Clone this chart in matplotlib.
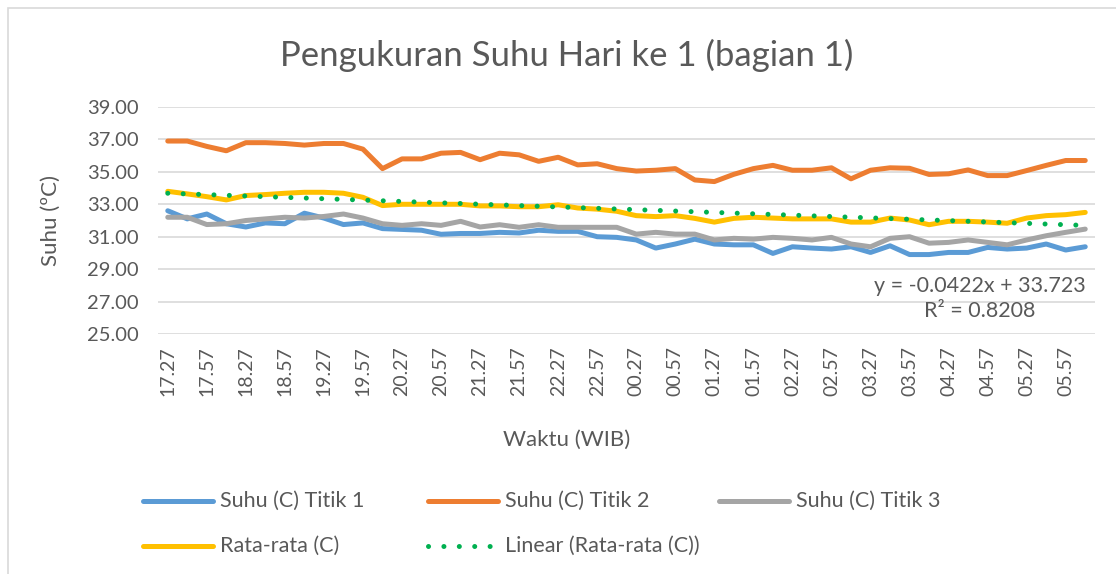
import matplotlib.pyplot as plt
from matplotlib.lines import Line2D
from matplotlib.patches import Rectangle
import numpy as np

plt.rcParams['font.family'] = ['Lato', 'DejaVu Sans']

# data (48 readings)
titik1 = [32.6, 32.1, 32.4, 31.8, 31.6, 31.85, 31.8, 32.45, 32.15, 31.75, 31.85, 31.5,
          31.45, 31.4, 31.15, 31.2, 31.2, 31.27, 31.23, 31.4, 31.33, 31.33, 31.0, 30.96,
          30.8, 30.3, 30.55, 30.85, 30.55, 30.5, 30.5, 29.97, 30.38, 30.3, 30.24, 30.38,
          30.03, 30.44, 29.9, 29.9, 30.03, 30.03, 30.34, 30.24, 30.3, 30.55, 30.18, 30.38]
titik2 = [36.9, 36.9, 36.57, 36.3, 36.8, 36.8, 36.75, 36.65, 36.75, 36.75, 36.4, 35.2,
          35.8, 35.8, 36.15, 36.2, 35.75, 36.15, 36.05, 35.65, 35.9, 35.43, 35.5, 35.2,
          35.05, 35.1, 35.2, 34.5, 34.4, 34.85, 35.2, 35.4, 35.1, 35.1, 35.25, 34.57,
          35.1, 35.25, 35.22, 34.84, 34.88, 35.12, 34.77, 34.77, 35.08, 35.4, 35.7, 35.7]
titik3 = [32.2, 32.2, 31.75, 31.8, 32.0, 32.1, 32.2, 32.15, 32.25, 32.4, 32.15, 31.8,
          31.7, 31.8, 31.7, 31.95, 31.6, 31.74, 31.58, 31.74, 31.58, 31.58, 31.58, 31.58,
          31.16, 31.27, 31.16, 31.16, 30.8, 30.9, 30.85, 30.96, 30.9, 30.8, 30.96, 30.55,
          30.38, 30.9, 31.0, 30.6, 30.65, 30.8, 30.65, 30.5, 30.8, 31.06, 31.27, 31.47]
rata = [33.8, 33.64, 33.47, 33.27, 33.54, 33.6, 33.68, 33.74, 33.74, 33.68, 33.43, 32.92,
        33.0, 33.0, 33.0, 33.0, 32.9, 32.9, 32.85, 32.85, 32.97, 32.77, 32.7, 32.57,
        32.3, 32.24, 32.3, 32.13, 31.9, 32.13, 32.2, 32.15, 32.1, 32.1, 32.1, 31.9,
        31.9, 32.15, 32.03, 31.74, 31.95, 31.95, 31.9, 31.83, 32.15, 32.3, 32.36, 32.5]
waktu = ['17.27', '17.57', '18.27', '18.57', '19.27', '19.57', '20.27', '20.57',
         '21.27', '21.57', '22.27', '22.57', '00.27', '00.57', '01.27', '01.57',
         '02.27', '02.57', '03.27', '03.57', '04.27', '04.57', '05.27', '05.57']
slope = -0.0422
intercept = 33.723
r2 = 0.8208

txt = '#595959'
c1, c2, c3, c4, cl = '#5b9bd5', '#ed7d31', '#a5a5a5', '#ffc000', '#00b050'
lw = 3.6

fig = plt.figure(figsize=(11.16, 5.74), dpi=100)
W, H = 1116, 574

# chart border
fig.add_artist(Rectangle((8 / W, -0.1), 1.2, 1 - 8 / H + 0.1, transform=fig.transFigure,
                         fill=False, edgecolor='#d9d9d9', lw=1.2))

ax = fig.add_axes([158 / W, 1 - 334 / H, 937 / W, 227 / H])
n = len(rata)
x = np.arange(n)
ax.plot(x, titik1, color=c1, lw=lw, solid_joinstyle='round', solid_capstyle='round')
ax.plot(x, titik2, color=c2, lw=lw, solid_joinstyle='round', solid_capstyle='round')
ax.plot(x, titik3, color=c3, lw=lw, solid_joinstyle='round', solid_capstyle='round')
ax.plot(x, rata, color=c4, lw=lw, solid_joinstyle='round', solid_capstyle='round')
trend = slope * (x + 1) + intercept
dot_style = (0, (0.01, 3.07))
ax.plot(x, trend, color=cl, lw=lw, linestyle=dot_style, dash_capstyle='round')

ax.set_xlim(-0.5, n - 0.5)
ax.set_ylim(25, 39)
ax.set_yticks(np.arange(25, 40, 2))
ax.set_yticklabels(['%.2f' % v for v in np.arange(25, 40, 2)])
ax.set_xticks(np.arange(0, n, 2))
ax.set_xticklabels(waktu, rotation=90)
ax.grid(axis='y', color='#d9d9d9', lw=1.2)
ax.set_axisbelow(True)
for s in ax.spines.values():
    s.set_visible(False)
ax.tick_params(axis='both', length=0, labelsize=14, colors=txt)
ax.tick_params(axis='y', labelsize=14.5, pad=14)
ax.tick_params(axis='x', pad=9)

ax.text(41.6, 27.2, 'y = -0.0422x + 33.723\nR² = 0.8208', ha='center', va='center',
        multialignment='center', fontsize=15.5, color=txt, linespacing=1.3)

fig.text(567 / W, 1 - 55 / H, 'Pengukuran Suhu Hari ke 1 (bagian 1)', ha='center',
         va='center', fontsize=25, color=txt)
fig.text(51 / W, 1 - 220 / H, 'Suhu (ºC)', rotation=90, ha='center', va='center',
         fontsize=16, color=txt)
fig.text(567 / W, 1 - 440 / H, 'Waktu (WIB)', ha='center', va='center',
         fontsize=16, color=txt)

# legend drawn by hand to keep Excel's column grid
entries = [('Suhu (C) Titik 1', c1, '-', 143, 501),
           ('Suhu (C) Titik 2', c2, '-', 428, 501),
           ('Suhu (C) Titik 3', c3, '-', 719, 501),
           ('Rata-rata (C)', c4, '-', 143, 546),
           ('Linear (Rata-rata (C))', cl, dot_style, 428, 546)]
for label, col, ls, x0, y0 in entries:
    fig.add_artist(Line2D([x0 / W, (x0 + 70) / W], [1 - y0 / H, 1 - y0 / H],
                          transform=fig.transFigure, color=col, lw=lw, linestyle=ls,
                          solid_capstyle='round', dash_capstyle='round'))
    fig.text((x0 + 77) / W, 1 - y0 / H, label, ha='left', va='center',
             fontsize=15.5, color=txt)

fig.savefig('out.png', dpi=100)
